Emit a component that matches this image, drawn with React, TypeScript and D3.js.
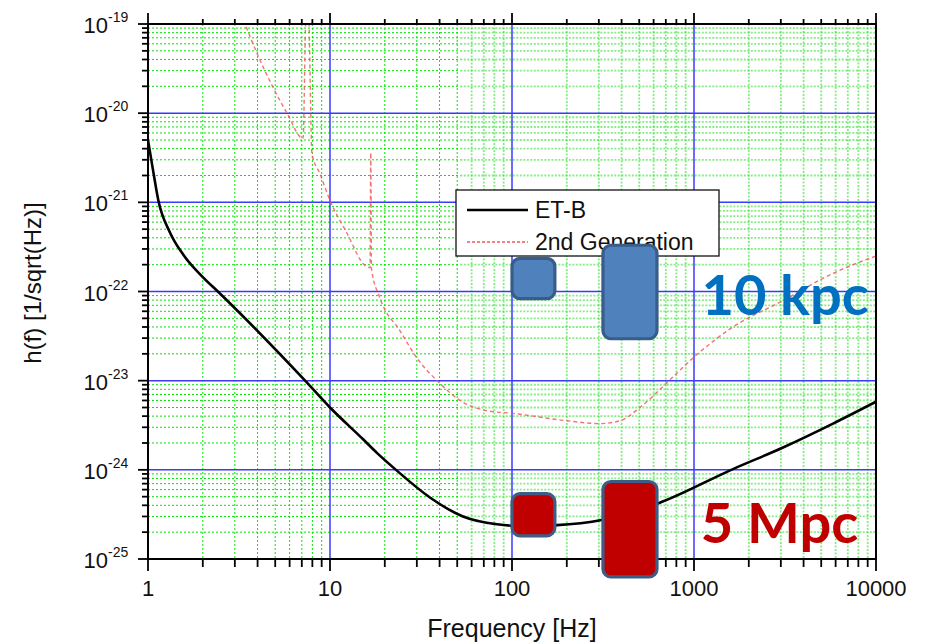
import * as d3 from "d3"
import { useMemo } from "react"

// ET-B sensitivity curve (frequency Hz, strain 1/sqrt(Hz))
const etbFreq = [1, 1.06, 1.14, 1.32, 1.56, 2.0, 2.42, 7.3, 10, 15.2, 18.1, 23.3, 35.4, 53.8, 82.7, 106, 177, 316, 634, 1637, 3084, 5806, 10000]
const etbStrain = [5.0e-21, 2.45e-21, 1.05e-21, 4.6e-22, 2.6e-22, 1.45e-22, 1.0e-22, 1.0e-23, 5.0e-24, 2.2e-24, 1.55e-24, 9.8e-25, 4.9e-25, 3.0e-25, 2.45e-25, 2.35e-25, 2.4e-25, 2.75e-25, 4.2e-25, 1.02e-24, 1.78e-24, 3.3e-24, 5.8e-24]

// 2nd generation curve
const genFreq = [3.35, 3.97, 4.86, 5.81, 7.11, 7.4, 7.6, 7.96, 8.8, 10, 12.4, 15.6, 16.6, 16.75, 16.9, 18.8, 24.3, 30, 40.2, 51.8, 72.9, 101, 200, 305, 392, 505, 711, 988, 1637, 3084, 5806, 10000]
const genStrain = [1.1e-19, 4.7e-20, 1.95e-20, 1.0e-20, 5.2e-21, 1.5e-19, 1.5e-19, 3.5e-21, 2.1e-21, 1.05e-21, 4.5e-22, 1.95e-22, 1.85e-22, 3.6e-21, 1.8e-22, 8.5e-23, 3.6e-23, 1.8e-23, 9.3e-24, 6.0e-24, 4.6e-24, 4.3e-24, 3.55e-24, 3.3e-24, 3.55e-24, 5.0e-24, 9.5e-24, 1.8e-23, 4.0e-23, 7.9e-23, 1.6e-22, 2.5e-22]

// source boxes: [fMin, fMax, hLow, hHigh]
const kpcBoxes = [[100, 172, 8.3e-23, 2.35e-22], [316, 626, 2.95e-23, 3.3e-22]]
const mpcBoxes = [[100, 172, 1.82e-25, 5.4e-25], [316, 626, 6.3e-26, 7.4e-25]]
const labels = [
    { text: "10 kpc", f: 1100, h: 5.4e-23, color: "#0070c0" },
    { text: "5 Mpc", f: 1090, h: 1.5e-25, color: "#c00000" },
]

const xTickValues = [1, 10, 100, 1000, 10000]
const yExponents = [-19, -20, -21, -22, -23, -24, -25]
const legendItems = ["ET-B", "2nd Generation"]

const W = 926
const H = 644
const LEFT = 148
const RIGHT = 876
const TOP = 24
const BOTTOM = 559
const SPLIT_F = 52

export default function App() {
    const x = useMemo(() => d3.scaleLog().domain([1, 10000]).range([LEFT, RIGHT]), [])
    const y = useMemo(() => d3.scaleLog().domain([1e-25, 1e-19]).range([BOTTOM, TOP]), [])

    const minorX: number[] = []
    for (let d = 0; d < 4; d++) for (let k = 2; k <= 9; k++) minorX.push(k * Math.pow(10, d))
    const minorY: number[] = []
    for (let d = -25; d < -19; d++) for (let k = 2; k <= 9; k++) minorY.push(k * Math.pow(10, d))
    const majorX = [10, 100, 1000]
    const majorY = [1e-24, 1e-23, 1e-22, 1e-21, 1e-20]

    const xs = x(SPLIT_F)

    const line = d3.line<[number, number]>()
        .x((d) => x(d[0]))
        .y((d) => y(d[1]))
        .curve(d3.curveMonotoneX)

    const etbPath = line(etbFreq.map((f, i) => [f, etbStrain[i]] as [number, number])) as string
    const genPath = line(genFreq.map((f, i) => [f, genStrain[i]] as [number, number])) as string

    const leftGrid = { stroke: "#00e600", strokeWidth: 1, strokeDasharray: "2,2" }
    const rightGrid = { stroke: "#22dd22", strokeWidth: 1.8, strokeDasharray: "2,1.5", strokeOpacity: 0.55 }

    return (
        <svg width={W} height={H} style={{ position: "absolute", left: 0, top: 0, background: "#fff" }}
            fontFamily="'Liberation Sans', Arial, sans-serif">
            <defs>
                <clipPath id="plot">
                    <rect x={LEFT} y={TOP} width={RIGHT - LEFT} height={BOTTOM - TOP} />
                </clipPath>
            </defs>

            {/* minor grid */}
            <g>
                {minorX.map((f, i) => (
                    <line key={"vx" + i} x1={x(f)} x2={x(f)} y1={TOP} y2={BOTTOM} {...(f < SPLIT_F ? leftGrid : rightGrid)} />
                ))}
                {minorY.map((h, i) => (
                    <g key={"hy" + i}>
                        <line x1={LEFT} x2={xs} y1={y(h)} y2={y(h)} {...leftGrid} />
                        <line x1={xs} x2={RIGHT} y1={y(h)} y2={y(h)} {...rightGrid} />
                    </g>
                ))}
            </g>

            {/* major grid */}
            <g stroke="#3a3aff" strokeWidth={1.5}>
                {majorX.map((f) => <line key={f} x1={x(f)} x2={x(f)} y1={TOP} y2={BOTTOM} />)}
                {majorY.map((h) => <line key={h} x1={LEFT} x2={RIGHT} y1={y(h)} y2={y(h)} />)}
            </g>

            {/* curves */}
            <g clipPath="url(#plot)" fill="none">
                <path d={genPath} stroke="#f25a5a" strokeWidth={1.4} strokeDasharray="4,3" strokeOpacity={0.85} />
                <path d={etbPath} stroke="#000" strokeWidth={2.6} />
            </g>

            {/* axes frame */}
            <rect x={LEFT} y={TOP} width={RIGHT - LEFT} height={BOTTOM - TOP} fill="none" stroke="#000" strokeWidth={2} />

            {/* ticks */}
            <g stroke="#000" strokeWidth={1.8}>
                {minorX.map((f, i) => (
                    <g key={"tx" + i}>
                        <line x1={x(f)} x2={x(f)} y1={BOTTOM} y2={BOTTOM + 8} />
                        <line x1={x(f)} x2={x(f)} y1={TOP} y2={TOP - 5} />
                    </g>
                ))}
                {xTickValues.map((f) => (
                    <g key={"tX" + f}>
                        <line x1={x(f)} x2={x(f)} y1={BOTTOM} y2={BOTTOM + 12} />
                        <line x1={x(f)} x2={x(f)} y1={TOP} y2={TOP - 11} />
                    </g>
                ))}
                {minorY.map((h, i) => <line key={"ty" + i} x1={LEFT - 6} x2={LEFT} y1={y(h)} y2={y(h)} />)}
                {yExponents.map((e) => <line key={"tY" + e} x1={LEFT - 10} x2={LEFT} y1={y(Math.pow(10, e))} y2={y(Math.pow(10, e))} />)}
            </g>

            {/* tick labels */}
            <g fontSize={22} fill="#111">
                {xTickValues.map((f) => (
                    <text key={f} x={x(f)} y={596} textAnchor="middle">{f}</text>
                ))}
                {yExponents.map((e) => (
                    <g key={e}>
                        <text x={108} y={y(Math.pow(10, e)) + 9} textAnchor="end">10</text>
                        <text x={108} y={y(Math.pow(10, e)) - 2} fontSize={14}>{e}</text>
                    </g>
                ))}
            </g>

            {/* axis titles */}
            <text x={512} y={637} fontSize={25} textAnchor="middle" fill="#111">Frequency [Hz]</text>
            <text transform="translate(41,283) rotate(-90)" fontSize={24} textAnchor="middle" fill="#111">h(f) [1/sqrt(Hz)]</text>

            {/* legend */}
            <g>
                <rect x={456} y={190} width={263} height={66} fill="#fff" stroke="#111" strokeWidth={1.3} />
                <line x1={467} x2={528} y1={210} y2={210} stroke="#000" strokeWidth={2.6} />
                <line x1={467} x2={528} y1={242} y2={242} stroke="#f25a5a" strokeWidth={1.3} strokeDasharray="3,2" />
                {legendItems.map((t, i) => (
                    <text key={t} x={535} y={218 + i * 32} fontSize={23} fill="#111">{t}</text>
                ))}
            </g>

            {/* source boxes */}
            <g strokeWidth={3.2}>
                {kpcBoxes.map((b, i) => (
                    <rect key={"k" + i} x={x(b[0])} y={y(b[3])} width={x(b[1]) - x(b[0])} height={y(b[2]) - y(b[3])}
                        rx={8} fill="#4f81bd" stroke="#385d8a" />
                ))}
                {mpcBoxes.map((b, i) => (
                    <rect key={"m" + i} x={x(b[0])} y={y(b[3])} width={x(b[1]) - x(b[0])} height={y(b[2]) - y(b[3])}
                        rx={8} fill="#c00000" stroke="#3e5d86" />
                ))}
            </g>
            {labels.map((l) => (
                <text key={l.text} x={x(l.f)} y={y(l.h)} fontSize={56} fontWeight="bold" fill={l.color}
                    fontFamily="Lato, 'Open Sans', sans-serif">{l.text}</text>
            ))}
        </svg>
    )
}
